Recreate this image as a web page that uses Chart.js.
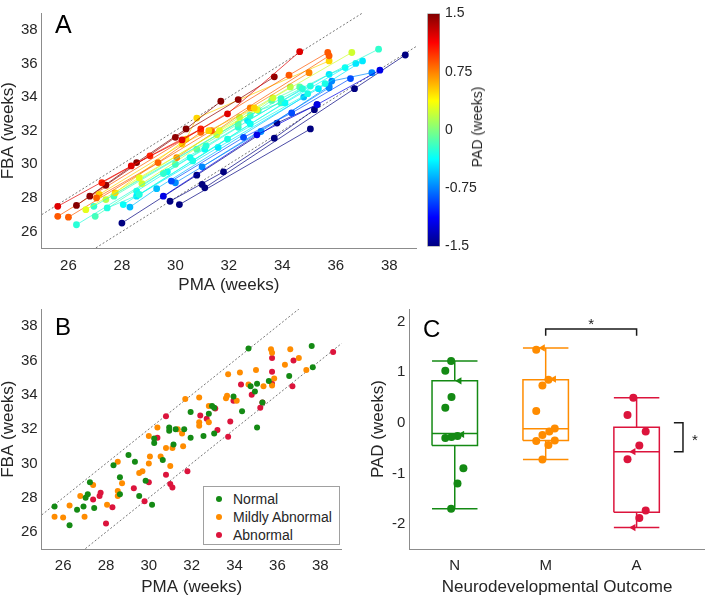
<!DOCTYPE html>
<html>
<head>
<meta charset="utf-8">
<script src="https://cdn.jsdelivr.net/npm/chart.js@4.4.1/dist/chart.umd.min.js"></script>
<style>
  body { margin: 0; background: #fff; width: 709px; height: 596px; position: relative; overflow: hidden;
         font-family: "Liberation Sans", Arial, sans-serif; color: #262626; }
  canvas { position: absolute; }
  .letter { position: absolute; font-size: 25px; line-height: 1; color: #000; }
  #cbarTitle { position: absolute; left: 477px; top: 127px; font-size: 14px; white-space: nowrap;
               transform: translate(-50%, -50%) rotate(-90deg); }
  #legendB { position: absolute; left: 203px; top: 486px; width: 135px; height: 57px;
             border: 1px solid #a0a0a0; background: #fff; font-size: 14px; }
  #legendB div { position: absolute; left: 0; height: 18px; line-height: 18px; }
  #legendB span.dot { position: absolute; left: 12px; top: 6px; width: 6px; height: 6px; border-radius: 50%; }
  #legendB span.txt { position: absolute; left: 29px; white-space: nowrap; }
</style>
</head>
<body>
<canvas id="chartA" width="420" height="296" style="left:0;top:0"></canvas>
<canvas id="chartCbar" width="100" height="260" style="left:420px;top:0"></canvas>
<canvas id="chartB" width="360" height="300" style="left:0;top:296px"></canvas>
<canvas id="chartC" width="349" height="300" style="left:360px;top:296px"></canvas>
<div class="letter" style="left:55px;top:12px">A</div>
<div class="letter" style="left:55px;top:315px;font-size:24px">B</div>
<div class="letter" style="left:423px;top:317px;font-size:24px">C</div>
<div id="cbarTitle">PAD (weeks)</div>
<div id="legendB"></div>
<script>
const groupLabels = ['Normal', 'Mildly Abnormal', 'Abnormal'];
const groupTicks = ['N', 'M', 'A'];
const groupColors = ['#148a14', '#ff8c00', '#dc143c'];

// PAD (weeks) of every subject, per outcome group (panel C)
const padN = [1.22, 1.03, 0.83, 0.51, 0.30, -0.23, -0.26, -0.28, -0.30, -0.90, -1.20, -1.70];
const padM = [1.48, 1.446, 0.865, 0.853, 0.737, 0.233, -0.11, -0.17, -0.24, -0.35, -0.36, -0.44, -0.725];
const padA = [0.497, 0.155, -0.17, -0.446, -0.57, -0.72, -1.733, -1.88, -2.07];

// horizontal position of each dot in panel C
const jitN = [0.96, 0.896, 1.05, 0.964, 0.896, 1.08, 1.03, 0.964, 0.896, 1.095, 1.03, 0.96];
const jitM = [1.967, 1.896, 2.09, 2.03, 1.964, 1.896, 2.10, 2.04, 1.964, 2.10, 1.896, 2.03, 1.964];
const jitA = [2.964, 2.90, 3.10, 3.03, 2.964, 2.90, 3.10, 3.03, 2.964];
// 1 = drawn as a left-pointing triangle
const triN = [0, 0, 1, 0, 0, 1, 0, 0, 0, 0, 0, 0];
const triM = [1, 0, 1, 0, 0, 0, 0, 0, 0, 0, 0, 0, 0];
const triA = [0, 0, 0, 0, 1, 0, 0, 0, 1];

// scans of each subject: PMA and FBA in weeks
const pmaN = [[25.6, 28.35, 30.25, 31.95, 34.65], [27.25, 29.05, 30.95], [27.05, 29.35, 30.95],
  [27.15, 30.25, 31.25, 32.95], [26.65, 28.65, 31.65, 33.05], [26.95, 32.8, 33.95, 37.6],
  [26.3, 31.15, 34.75], [27.45, 28.65, 35.05], [30.65, 31.95, 34.95, 35.6], [29.85, 32.55, 34.35, 36.55],
  [29.55, 33.05, 35.3, 37.65], [30.15, 35.05]];
const fbaN = [[27.5, 29.9, 31.45, 33.0, 36.7], [28.9, 30.5, 32.1], [28.0, 30.1, 31.9], [28.2, 31.2, 32.0, 33.35],
  [27.3, 29.2, 32.0, 33.25], [27.5, 32.9, 33.9, 36.85], [26.4, 31.1, 34.5], [27.4, 28.2, 34.65],
  [30.2, 31.5, 34.2, 34.8], [29.0, 31.6, 33.05, 35.1], [28.1, 31.75, 33.55, 35.6], [27.6, 32.1]];

const pmaM = [[26.3, 28.55, 30.4, 31.7], [26.8, 27.4, 30.0, 32.35, 33.7], [25.6, 34.25, 35.7],
  [26.0, 31.35, 35.75], [30.05, 32.8, 35.0], [28.75, 31.55, 33.65, 36.6], [30.8, 32.35, 33.6, 34.65],
  [27.0, 30.0], [29.55, 32.35], [28.55, 29.7, 30.55, 31.1], [28.05, 32.8, 34.1, 36.35],
  [28.55, 31.6, 35.35, 37.0], [31.0, 35.75, 35.85, 37.35]];
const fbaM = [[27.55, 30.1, 32.1, 33.75], [28.1, 28.75, 31.6, 33.85, 35.2], [26.9, 35.3, 36.65],
  [26.85, 32.0, 36.45], [30.4, 33.35, 35.45], [28.85, 31.75, 33.95, 36.65], [30.9, 32.4, 33.8, 34.6],
  [26.9, 30.0], [29.45, 32.2], [28.4, 29.55, 30.4, 30.9], [27.6, 32.4, 33.65, 35.75],
  [28.1, 31.0, 34.5, 36.15], [29.85, 34.55, 34.95, 35.45]];

const pmaA = [[27.75, 30.4, 30.8, 35.75], [27.4, 32.4, 34.3], [27.7, 33.1, 33.95], [32.7, 35.75, 36.75],
  [28.3, 29.3, 34.8], [30.0, 33.2, 35.75], [28.0, 30.8, 33.8, 35.3], [29.8, 31.8, 33.7, 35.2],
  [31.0, 31.1, 36.7, 38.6]];
const fbaA = [[28.3, 31.5, 32.75, 36.15], [27.9, 32.8, 34.6], [28.1, 33.2, 33.65], [32.6, 35.35, 36.0],
  [27.45, 28.55, 34.0], [28.9, 31.95, 34.65], [26.5, 29.35, 32.45, 33.55], [27.8, 29.55, 31.55, 33.25],
  [28.8, 28.6, 34.5, 36.5]];

// box stats: lower whisker, q1, median, q3, upper whisker
const boxN = [-1.70, -0.446, -0.21, 0.834, 1.22];
const boxM = [-0.725, -0.35, -0.116, 0.853, 1.48];
const boxA = [-2.07, -1.77, -0.57, -0.085, 0.497];

const ageTicks = [26, 28, 30, 32, 34, 36, 38];
const padTicks = [-2, -1, 0, 1, 2];
const cbarTicks = [-1.5, -0.75, 0, 0.75, 1.5];
const refOffsets = [2, -2]; // dotted lines FBA = PMA +/- 2

const groups = [
  { pad: padN, jit: jitN, tri: triN, pma: pmaN, fba: fbaN, box: boxN },
  { pad: padM, jit: jitM, tri: triM, pma: pmaM, fba: fbaM, box: boxM },
  { pad: padA, jit: jitA, tri: triA, pma: pmaA, fba: fbaA, box: boxA }
];

const FONT = '"Liberation Sans", Arial, sans-serif';
const TXT = '#262626';
const AXIS = '#8c8c8c';

function jet(v, alpha) {
  const t = Math.min(1, Math.max(0, (v + 1.5) / 3));
  const c = k => Math.round(255 * Math.min(1, Math.max(0, 1.5 - Math.abs(4 * t - k))));
  return `rgba(${c(3)},${c(2)},${c(1)},${alpha === undefined ? 1 : alpha})`;
}

function scans(g, i) {
  return g.pma[i].map((x, j) => ({ x: x, y: g.fba[i][j] })).sort((a, b) => a.x - b.x);
}

function refLines() {
  return refOffsets.map(o => ({
    data: [25, 39].map(x => ({ x: x, y: x + o })),
    showLine: true, borderColor: '#777', borderWidth: 1, borderDash: [2, 2],
    pointRadius: 0, order: 10
  }));
}

function fixedTicks(list) {
  return scale => { scale.ticks = list.map(v => ({ value: v })); };
}

function ageScales(yWidth, xHeight, tickPad, titlePad) {
  return {
    x: {
      type: 'linear', min: 25, max: 39,
      afterBuildTicks: fixedTicks(ageTicks),
      afterFit: s => { s.height = xHeight; },
      grid: { display: false, drawTicks: false },
      border: { color: AXIS, width: 1 },
      ticks: { color: TXT, font: { family: FONT, size: 15 }, padding: tickPad },
      title: { display: true, text: 'PMA (weeks)', color: TXT, padding: { top: 0, bottom: titlePad },
               font: { family: FONT, size: 17, lineHeight: 1 } }
    },
    y: {
      type: 'linear', min: 25, max: 39,
      afterBuildTicks: fixedTicks(ageTicks),
      afterFit: s => { s.width = yWidth; },
      grid: { display: false, drawTicks: false },
      border: { color: AXIS, width: 1 },
      ticks: { color: TXT, font: { family: FONT, size: 15 }, padding: 4 },
      title: { display: true, text: 'FBA (weeks)', color: TXT, padding: { top: 0, bottom: 0 },
               font: { family: FONT, size: 17, lineHeight: 1 } }
    }
  };
}

const baseOpts = {
  responsive: false, animation: false,
  plugins: { legend: { display: false }, tooltip: { enabled: false } }
};

// ---- panel A: trajectories coloured by PAD
const dsA = [];
groups.forEach(g => {
  g.pad.forEach((p, i) => {
    dsA.push({
      data: scans(g, i), showLine: true,
      borderColor: jet(p, 0.7), borderWidth: 1,
      backgroundColor: jet(p), pointBorderWidth: 0, pointRadius: 3.4
    });
  });
});
new Chart(document.getElementById('chartA'), {
  type: 'scatter',
  data: { datasets: dsA.concat(refLines()) },
  options: Object.assign({}, baseOpts, {
    layout: { padding: { left: 0, right: 3.3, top: 3.3, bottom: 0 } },
    scales: ageScales(41.7, 47.7, 9, 2)
  })
});

// ---- colour bar
const jetStops = [0, 0.125, 0.25, 0.375, 0.5, 0.625, 0.75, 0.875, 1];
new Chart(document.getElementById('chartCbar'), {
  type: 'bar',
  data: {
    labels: ['PAD'],
    datasets: [{
      data: [[-1.5, 1.5]],
      barPercentage: 1, categoryPercentage: 1,
      borderColor: '#8c8c8c', borderWidth: 1, borderSkipped: false,
      backgroundColor: ctx => {
        const area = ctx.chart.chartArea;
        if (!area) return '#0f0';
        const grad = ctx.chart.ctx.createLinearGradient(0, area.bottom, 0, area.top);
        jetStops.forEach(t => grad.addColorStop(t, jet(-1.5 + 3 * t)));
        return grad;
      }
    }]
  },
  options: Object.assign({}, baseOpts, {
    layout: { padding: { left: 7.3, right: 0, top: 5, bottom: 11.3 } },
    scales: {
      x: { display: false },
      y: {
        position: 'right', min: -1.5, max: 1.5,
        afterBuildTicks: fixedTicks(cbarTicks),
        afterFit: s => { s.width = 80; },
        grid: { display: false, drawTicks: false },
        border: { display: false },
        ticks: { color: TXT, font: { family: FONT, size: 14 }, padding: 5, callback: v => String(v) }
      }
    }
  })
});

// ---- panel B: scans coloured by outcome
const dsB = groups.map((g, gi) => ({
  label: groupLabels[gi],
  data: g.pad.flatMap((p, i) => scans(g, i)),
  backgroundColor: groupColors[gi], pointBorderWidth: 0, pointRadius: 3
}));
new Chart(document.getElementById('chartB'), {
  type: 'scatter',
  data: { datasets: dsB.concat(refLines()) },
  options: Object.assign({}, baseOpts, {
    layout: { padding: { left: 0, right: 18.3, top: 9, bottom: 0 } },
    scales: ageScales(41.7, 46.7, 7.5, 0)
  })
});

const legendB = document.getElementById('legendB');
groupLabels.forEach((name, i) => {
  const row = document.createElement('div');
  row.style.top = (2.7 + i * 18.3) + 'px';
  row.innerHTML = `<span class="dot" style="background:${groupColors[i]}"></span><span class="txt">${name}</span>`;
  legendB.appendChild(row);
});

// ---- panel C: PAD box plots
function boxShape(c, s) {
  const h = 0.25;
  return [
    { x: c - h, y: s[1] }, { x: c + h, y: s[1] }, { x: c + h, y: s[3] }, { x: c - h, y: s[3] }, { x: c - h, y: s[1] },
    { x: c, y: null },
    { x: c - h, y: s[2] }, { x: c + h, y: s[2] },
    { x: c, y: null },
    { x: c, y: s[3] }, { x: c, y: s[4] },
    { x: c, y: null },
    { x: c - h, y: s[4] }, { x: c + h, y: s[4] },
    { x: c, y: null },
    { x: c, y: s[1] }, { x: c, y: s[0] },
    { x: c, y: null },
    { x: c - h, y: s[0] }, { x: c + h, y: s[0] }
  ];
}

const dsC = [];
groups.forEach((g, gi) => {
  const col = groupColors[gi];
  dsC.push({
    data: g.pad.map((p, i) => ({ x: g.jit[i], y: p })).filter((d, i) => !g.tri[i]),
    backgroundColor: col, pointBorderWidth: 0, pointRadius: 4
  });
  dsC.push({
    data: g.pad.map((p, i) => ({ x: g.jit[i], y: p })).filter((d, i) => g.tri[i]),
    backgroundColor: col, borderColor: col, pointBorderWidth: 0, pointRadius: 4.2,
    pointStyle: 'triangle', pointRotation: -90
  });
  dsC.push({
    data: boxShape(gi + 1, g.box), showLine: true, spanGaps: false,
    borderColor: col, borderWidth: 1.5, pointRadius: 0, order: 5
  });
});
// significance brackets: M vs A, and A median vs 0
dsC.push({
  data: [{ x: 2, y: 1.72 }, { x: 2, y: 1.855 }, { x: 3, y: 1.855 }, { x: 3, y: 1.72 }],
  showLine: true, borderColor: '#1a1a1a', borderWidth: 1.5, pointRadius: 0
});
dsC.push({
  data: [{ x: 3.41, y: 0 }, { x: 3.51, y: 0 }, { x: 3.51, y: boxA[2] }, { x: 3.41, y: boxA[2] }],
  showLine: true, borderColor: '#1a1a1a', borderWidth: 1.5, pointRadius: 0
});

const starPlugin = {
  id: 'stars',
  afterDatasetsDraw(chart) {
    const { ctx, scales } = chart;
    ctx.save();
    ctx.fillStyle = '#1a1a1a';
    ctx.font = '15px ' + FONT;
    ctx.textAlign = 'center';
    ctx.textBaseline = 'middle';
    ctx.fillText('*', scales.x.getPixelForValue(2.5), scales.y.getPixelForValue(1.855) - 4);
    ctx.fillText('*', scales.x.getPixelForValue(3.64), scales.y.getPixelForValue(boxA[2] / 2) + 4);
    ctx.restore();
  }
};

new Chart(document.getElementById('chartC'), {
  type: 'scatter',
  data: { datasets: dsC },
  plugins: [starPlugin],
  options: Object.assign({}, baseOpts, {
    layout: { padding: { left: 0, right: 0.7, top: 9, bottom: 0 } },
    scales: {
      x: {
        type: 'linear', min: 0.5, max: 3.75,
        afterBuildTicks: fixedTicks([1, 2, 3]),
        afterFit: s => { s.height = 46.7; },
        grid: { display: false, drawTicks: false },
        border: { color: AXIS, width: 1 },
        ticks: { color: TXT, font: { family: FONT, size: 15 }, padding: 7.7, callback: v => groupTicks[v - 1] },
        title: { display: true, text: 'Neurodevelopmental Outcome', color: TXT, padding: { top: 0, bottom: 0 },
                 font: { family: FONT, size: 17, lineHeight: 1 } }
      },
      y: {
        type: 'linear', min: -2.5, max: 2.25,
        afterBuildTicks: fixedTicks(padTicks),
        afterFit: s => { s.width = 49.3; },
        grid: { display: false, drawTicks: false },
        border: { color: AXIS, width: 1 },
        ticks: { color: TXT, font: { family: FONT, size: 15 }, padding: 4 },
        title: { display: true, text: 'PAD (weeks)', color: TXT, padding: { top: 9.8, bottom: 0 },
                 font: { family: FONT, size: 17, lineHeight: 1 } }
      }
    }
  })
});
</script>
</body>
</html>
